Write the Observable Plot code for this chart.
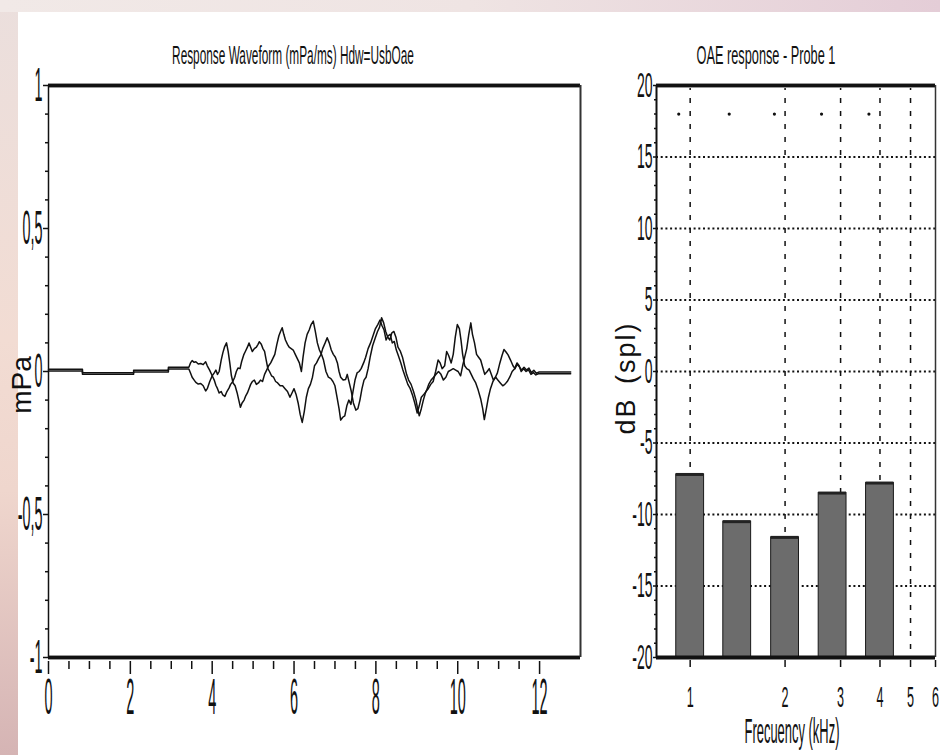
<!DOCTYPE html>
<html><head><meta charset="utf-8">
<script src="https://cdn.jsdelivr.net/npm/d3@7"></script>
<script src="https://cdn.jsdelivr.net/npm/@observablehq/plot@0.6"></script>
<style>
body{margin:0;background:#fff;}
#page{position:relative;width:940px;height:755px;overflow:hidden;font-family:"Liberation Sans",Arial,sans-serif;color:#111;
 background:linear-gradient(180deg,#ebdfdd 0%,#f2dcd3 45%,#efd6cd 65%,#d5b4b4 100%);}
#topstrip{position:absolute;left:0;top:0;width:940px;height:12px;background:linear-gradient(90deg,#f1e9e7 0%,#efe4e3 50%,#e4cdd7 100%);}
#panel{position:absolute;left:18px;top:12px;width:922px;height:743px;background:#fff;}
.chart{position:absolute;top:0;}
.lbl{position:absolute;white-space:nowrap;line-height:1;}
</style></head>
<body>
<div id="page">
 <div id="topstrip"></div><div id="panel"></div>
 <div id="left" class="chart" style="left:0"></div>
 <div id="right" class="chart" style="left:600px"></div>
 <div class="lbl" id="t1" style="left:293px;top:42px;font-size:26px;transform:translateX(-50%) scaleX(0.455)"></div>
 <div class="lbl" id="t2" style="left:766px;top:42px;font-size:26px;transform:translateX(-50%) scaleX(0.49)"></div>
 <div class="lbl" id="xl2" style="left:792px;top:713px;font-size:35px;transform:translateX(-50%) scaleX(0.37)"></div>
 <div class="lbl" id="yl1" style="left:22px;top:385px;font-size:28px;transform:translate(-50%,-50%) rotate(-90deg)"></div>
 <div class="lbl" id="yl2" style="left:626px;top:378px;font-size:27px;letter-spacing:2px;word-spacing:4px;transform:translate(-50%,-50%) rotate(-90deg)"></div>
</div>
<script>
// ---------- text ----------
const waveTitle = "Response Waveform (mPa/ms) Hdw=UsbOae";
const oaeTitle = "OAE response - Probe 1";
const waveYLabel = "mPa";
const oaeYLabel = "dB (spl)";
const oaeXLabel = "Frecuency (kHz)";

// ---------- left chart: response waveform (time ms, mPa) ----------
const waveXDomain = [0, 13];
const waveYDomain = [-1, 1];
const waveXTicks = [0, 2, 4, 6, 8, 10, 12];
const waveXMinor = [0.5, 1, 1.5, 2.5, 3, 3.5, 4.5, 5, 5.5, 6.5, 7, 7.5, 8.5, 9, 9.5, 10.5, 11, 11.5];
const waveYTicks = [-1, -0.5, 0, 0.5, 1];
const waveYTickLabels = ["-1", "-0,5", "0", "0,5", "1"];
const waveYMinor = [-0.9, -0.8, -0.7, -0.6, -0.4, -0.3, -0.2, -0.1, 0.1, 0.2, 0.3, 0.4, 0.6, 0.7, 0.8, 0.9];

const waveTraceA = [[0,0.008],[0.83,0.008],[0.83,-0.004],[2.08,-0.004],[2.08,0.004],[2.93,0.004],[2.93,0.015],
[3.43,0.015],[3.47,0.03],[3.51,0.038],[3.56,0.032],[3.60,0.034],[3.66,0.026],[3.72,0.028],[3.78,0.024],[3.84,0.034],[3.88,0.02],[3.94,0.004],
[4.00,-0.015],[4.05,-0.03],[4.09,-0.048],[4.13,-0.06],[4.17,-0.075],[4.22,-0.07],[4.26,-0.082],[4.31,-0.087],[4.36,-0.07],[4.41,-0.058],
[4.45,-0.045],[4.50,-0.036],[4.55,-0.02],[4.59,0.0],[4.63,0.012],[4.68,0.01],[4.72,0.035],[4.77,0.058],[4.81,0.07],[4.86,0.085],[4.90,0.1],
[4.94,0.085],[4.98,0.07],[5.03,0.08],[5.08,0.085],[5.12,0.095],[5.15,0.104],[5.20,0.095],[5.24,0.08],[5.28,0.07],[5.32,0.04],[5.36,0.01],
[5.40,0.0],[5.45,-0.015],[5.50,-0.02],[5.55,-0.035],[5.60,-0.04],[5.66,-0.05],[5.72,-0.05],[5.78,-0.06],[5.84,-0.07],[5.90,-0.09],[5.95,-0.075],
[6.00,-0.06],[6.05,-0.08],[6.10,-0.11],[6.15,-0.15],[6.20,-0.178],[6.25,-0.14],[6.30,-0.09],[6.35,-0.06],[6.40,-0.045],[6.45,-0.02],[6.50,0.02],
[6.55,0.03],[6.60,0.045],[6.66,0.06],[6.70,0.08],[6.76,0.1],[6.81,0.118],[6.86,0.1],[6.91,0.075],[6.96,0.06],[7.01,0.05],[7.06,0.03],[7.10,0.0],
[7.14,-0.02],[7.20,-0.03],[7.26,-0.028],[7.30,-0.01],[7.35,-0.04],[7.40,-0.07],[7.45,-0.11],[7.51,-0.135],[7.56,-0.13],[7.61,-0.1],[7.66,-0.06],
[7.71,-0.03],[7.76,-0.02],[7.81,0.01],[7.86,0.05],[7.92,0.09],[7.98,0.115],[8.04,0.14],[8.09,0.155],[8.14,0.188],[8.19,0.17],[8.24,0.14],
[8.29,0.12],[8.34,0.11],[8.39,0.135],[8.44,0.14],[8.49,0.12],[8.54,0.085],[8.60,0.07],[8.65,0.05],[8.70,0.02],[8.75,-0.01],[8.80,-0.03],
[8.86,-0.045],[8.92,-0.07],[8.98,-0.1],[9.02,-0.13],[9.06,-0.155],[9.11,-0.13],[9.16,-0.1],[9.22,-0.07],[9.28,-0.06],[9.34,-0.045],[9.40,-0.035],
[9.46,0.0],[9.52,0.04],[9.57,0.03],[9.62,0.01],[9.68,0.02],[9.73,0.07],[9.78,0.055],[9.84,0.03],[9.89,0.06],[9.94,0.12],[9.99,0.164],
[10.04,0.15],[10.08,0.11],[10.12,0.06],[10.17,0.02],[10.22,0.01],[10.28,0.005],[10.33,-0.01],[10.38,-0.025],[10.44,-0.04],[10.50,-0.065],
[10.56,-0.095],[10.61,-0.13],[10.65,-0.168],[10.70,-0.13],[10.75,-0.09],[10.80,-0.06],[10.86,-0.035],[10.92,-0.02],[10.97,-0.005],[11.03,0.03],
[11.08,0.055],[11.13,0.077],[11.18,0.068],[11.23,0.058],[11.29,0.04],[11.35,0.02],[11.40,0.01],[11.45,0.025],[11.50,0.018],[11.56,0.005],
[11.62,0.015],[11.68,0.005],[11.74,0.012],[11.80,-0.004],[11.86,0.004],[11.92,-0.006],[11.98,-0.002],[12.03,-0.002],[12.76,-0.002]];

const waveTraceB = [[0,0.002],[0.83,0.002],[0.83,-0.010],[2.08,-0.010],[2.08,-0.002],[2.93,-0.002],[2.93,0.009],
[3.43,0.009],[3.47,-0.005],[3.51,-0.02],[3.56,-0.03],[3.60,-0.038],[3.66,-0.044],[3.72,-0.042],[3.78,-0.05],[3.84,-0.068],[3.88,-0.06],[3.94,-0.035],
[4.00,-0.015],[4.05,-0.005],[4.09,0.005],[4.13,-0.01],[4.17,0.0],[4.22,0.04],[4.26,0.065],[4.30,0.085],[4.35,0.1],[4.39,0.07],[4.43,0.03],
[4.47,-0.015],[4.51,-0.04],[4.56,-0.05],[4.61,-0.075],[4.65,-0.1],[4.69,-0.125],[4.73,-0.11],[4.78,-0.1],[4.82,-0.085],[4.86,-0.075],[4.90,-0.06],
[4.94,-0.045],[4.98,-0.035],[5.03,-0.03],[5.08,-0.045],[5.13,-0.04],[5.18,-0.03],[5.23,-0.035],[5.28,-0.01],[5.33,0.005],[5.38,0.02],[5.43,0.03],
[5.48,0.045],[5.53,0.06],[5.58,0.095],[5.63,0.125],[5.67,0.14],[5.71,0.153],[5.75,0.13],[5.79,0.11],[5.84,0.095],[5.88,0.085],[5.93,0.08],
[5.98,0.075],[6.03,0.06],[6.08,0.045],[6.13,0.03],[6.18,0.0],[6.22,0.05],[6.27,0.1],[6.32,0.13],[6.37,0.145],[6.42,0.165],[6.47,0.176],
[6.52,0.14],[6.57,0.1],[6.62,0.075],[6.67,0.06],[6.72,0.04],[6.78,0.0],[6.84,-0.02],[6.90,-0.025],[6.95,-0.035],[7.00,-0.05],[7.05,-0.09],
[7.10,-0.13],[7.14,-0.17],[7.19,-0.16],[7.24,-0.155],[7.29,-0.12],[7.34,-0.1],[7.39,-0.115],[7.44,-0.07],[7.49,-0.03],[7.54,-0.005],[7.59,0.0],
[7.64,0.01],[7.70,0.03],[7.75,0.05],[7.81,0.08],[7.87,0.1],[7.93,0.125],[7.99,0.15],[8.05,0.165],[8.10,0.18],[8.15,0.16],[8.20,0.145],
[8.25,0.11],[8.30,0.125],[8.35,0.13],[8.40,0.1],[8.45,0.105],[8.50,0.075],[8.55,0.055],[8.61,0.03],[8.66,0.005],[8.72,-0.02],[8.78,-0.045],
[8.84,-0.06],[8.90,-0.085],[8.95,-0.11],[9.01,-0.145],[9.06,-0.12],[9.11,-0.09],[9.17,-0.08],[9.23,-0.07],[9.29,-0.045],[9.35,-0.03],
[9.41,-0.02],[9.47,-0.01],[9.53,0.0],[9.59,-0.01],[9.65,-0.03],[9.71,-0.02],[9.77,0.0],[9.83,0.005],[9.89,0.01],[9.95,0.005],[10.01,0.0],
[10.07,-0.015],[10.12,0.02],[10.17,0.05],[10.22,0.08],[10.27,0.13],[10.32,0.17],[10.36,0.13],[10.41,0.1],[10.46,0.06],[10.51,0.05],
[10.56,0.04],[10.61,0.015],[10.66,-0.01],[10.72,0.0],[10.77,0.01],[10.82,-0.01],[10.87,-0.03],[10.93,-0.02],[10.98,-0.03],[11.04,-0.04],
[11.10,-0.05],[11.15,-0.045],[11.21,-0.035],[11.27,-0.02],[11.33,0.0],[11.39,0.01],[11.45,0.03],[11.50,0.02],[11.55,0.0],[11.61,0.01],
[11.67,0.0],[11.73,0.006],[11.79,-0.01],[11.85,-0.004],[11.91,-0.012],[11.97,-0.008],[12.03,-0.008],[12.76,-0.008]];

// ---------- right chart: OAE response ----------
const freqDomain = [0.782, 6];
const dbDomain = [-20, 20];
const oaeFreqs = [1, 1.41, 2, 2.83, 4];
const oaeLevels = [-7.2, -10.5, -11.6, -8.5, -7.8];
const noiseFreqs = [0.92, 1.33, 1.85, 2.61, 3.69];
const noiseLevels = [18, 18, 18, 18, 18];
const freqTicks = [1, 2, 3, 4, 5, 6];
const freqGrid = [1, 2, 3, 4, 5];
const dbTicks = [-20, -15, -10, -5, 0, 5, 10, 15, 20];
const dbGrid = [-15, -10, -5, 0, 5, 10, 15];
const dbMinor = [-19,-18,-17,-16,-14,-13,-12,-11,-9,-8,-7,-6,-4,-3,-2,-1,1,2,3,4,6,7,8,9,11,12,13,14,16,17,18,19];
const barHalfFactor = 1.107; // bar half-width as a frequency ratio

document.getElementById("t1").textContent = waveTitle;
document.getElementById("t2").textContent = oaeTitle;
document.getElementById("xl2").textContent = oaeXLabel;
document.getElementById("yl1").textContent = waveYLabel;
document.getElementById("yl2").textContent = oaeYLabel;

const font = "'Liberation Sans', Arial, sans-serif";
const toPts = arr => arr.map(([t, v]) => ({t, v}));

function squeeze(svg, selector, s) {
  svg.querySelectorAll(selector).forEach(t => {
    const x = +(t.getAttribute("x") || 0);
    t.setAttribute("transform", (t.getAttribute("transform") || "") + ` translate(${x},0) scale(${s},1) translate(${-x},0)`);
  });
}

const leftPlot = Plot.plot({
  width: 600, height: 755,
  marginLeft: 48, marginRight: 20, marginTop: 85, marginBottom: 98,
  style: {background: "transparent", fontFamily: font, color: "#111", overflow: "visible"},
  x: {domain: waveXDomain, label: null},
  y: {domain: waveYDomain, label: null},
  marks: [
    Plot.line(toPts(waveTraceB), {x: "t", y: "v", stroke: "#111", strokeWidth: 1.5}),
    Plot.line(toPts(waveTraceA), {x: "t", y: "v", stroke: "#111", strokeWidth: 1.5}),
    Plot.ruleY(waveYDomain, {stroke: "#9a9a9a", strokeWidth: 5}),
    Plot.ruleY(waveYDomain, {stroke: "#111", strokeWidth: 3}),
    Plot.ruleX([waveXDomain[0]], {stroke: "#111", strokeWidth: 1.5}),
    Plot.ruleX([waveXDomain[1]], {stroke: "#333", strokeWidth: 2}),
    Plot.axisX({ticks: waveXTicks, label: null, tickSize: 13, dy: 4, tickPadding: 4, fontSize: 50, strokeWidth: 1.5, tickFormat: d => String(d)}),
    Plot.axisX({ticks: waveXMinor, label: null, tickSize: 8, dy: 4, text: null, strokeWidth: 1.5}),
    Plot.axisY({ticks: waveYTicks, label: null, tickSize: 5, tickPadding: 1, fontSize: 48, strokeWidth: 1.5,
      tickFormat: d => waveYTickLabels[waveYTicks.indexOf(d)]}),
    Plot.axisY({ticks: waveYMinor, label: null, tickSize: 3, text: null, strokeWidth: 1.5})
  ]
});
document.getElementById("left").append(leftPlot);
squeeze(leftPlot, 'g[aria-label="x-axis tick label"] text', 0.29);
squeeze(leftPlot, 'g[aria-label="y-axis tick label"] text', 0.30);

const bars = oaeFreqs.map((f, i) => ({f, v: oaeLevels[i]}));
const noise = noiseFreqs.map((f, i) => ({f, v: noiseLevels[i]}));

const rightPlot = Plot.plot({
  width: 340, height: 755,
  marginLeft: 56, marginRight: 5, marginTop: 85, marginBottom: 98,
  style: {background: "transparent", fontFamily: font, color: "#111", overflow: "visible"},
  x: {type: "log", domain: freqDomain, label: null},
  y: {domain: dbDomain, label: null},
  marks: [
    Plot.ruleY(dbGrid, {stroke: "#111", strokeWidth: 2, strokeDasharray: "2,2.7"}),
    Plot.ruleX(freqGrid, {stroke: "#111", strokeWidth: 1.5, strokeDasharray: "5,8"}),
    Plot.rect(bars, {x1: d => d.f / barHalfFactor, x2: d => d.f * barHalfFactor, y1: d => dbDomain[0], y2: "v",
      fill: "#6c6c6c", stroke: "#1a1a1a", strokeWidth: 1}),
    Plot.ruleY(bars, {x1: d => d.f / barHalfFactor, x2: d => d.f * barHalfFactor, y: "v", stroke: "#222", strokeWidth: 3}),
    Plot.dot(noise, {x: "f", y: "v", r: 1.6, fill: "#111", stroke: null}),
    Plot.ruleY([dbDomain[1]], {stroke: "#9a9a9a", strokeWidth: 5}),
    Plot.ruleY([dbDomain[1]], {stroke: "#111", strokeWidth: 3}),
    Plot.ruleY([dbDomain[0]], {stroke: "#111", strokeWidth: 4}),
    Plot.ruleX([freqDomain[0]], {stroke: "#111", strokeWidth: 2}),
    Plot.ruleX([freqDomain[1]], {stroke: "#333", strokeWidth: 1.5}),
    Plot.axisX({ticks: freqTicks, label: null, tickSize: 7, dy: 3, tickPadding: 18, fontSize: 30, strokeWidth: 1.5, tickFormat: d => String(d)}),
    Plot.axisY({ticks: dbTicks, label: null, tickSize: 3, tickPadding: 1, fontSize: 35, strokeWidth: 1.5, tickFormat: d => String(d)}),
    Plot.axisY({ticks: dbMinor, label: null, tickSize: 2, text: null, strokeWidth: 1.5})
  ]
});
document.getElementById("right").append(rightPlot);
squeeze(rightPlot, 'g[aria-label="x-axis tick label"] text', 0.42);
squeeze(rightPlot, 'g[aria-label="y-axis tick label"] text', 0.40);
</script>
</body></html>
